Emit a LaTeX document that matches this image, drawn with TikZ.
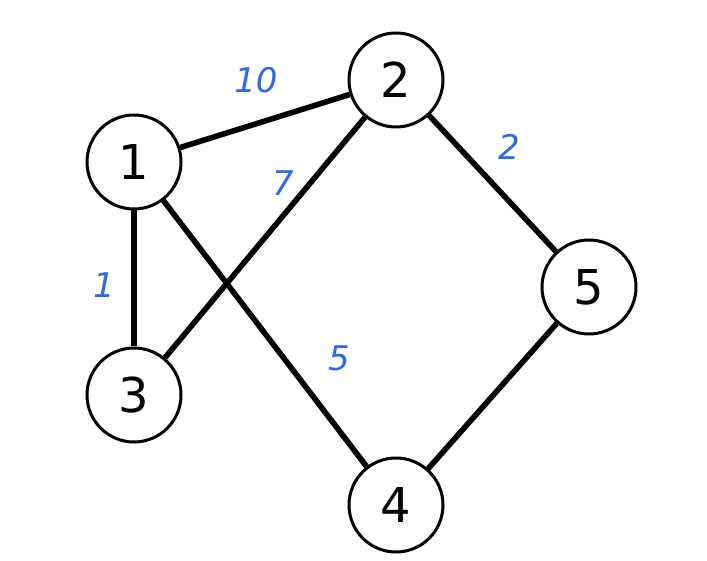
\documentclass[tikz,border=0pt]{standalone}
\usepackage{fontspec}
\setsansfont{DejaVu Sans}
\definecolor{lblue}{RGB}{45,105,235}
\begin{document}
\begin{tikzpicture}[x=1pt,y=-1pt,
  vert/.style={circle,draw,line width=3pt,minimum size=94pt,inner sep=0pt,fill=white,
    font=\fontsize{48}{48}\selectfont\sffamily},
  edge/.style={line width=5.6pt},
  wlab/.style={text=lblue,font=\fontsize{34}{34}\selectfont\sffamily\itshape}]
\useasboundingbox (0,0) rectangle (707,561);
\node[vert] (n1) at (134,162) {1};
\node[vert] (n2) at (396,80) {2};
\node[vert] (n3) at (134,395) {3};
\node[vert] (n4) at (396,505) {4};
\node[vert] (n5) at (589,287) {5};
\draw[edge] (n1) -- (n2);
\draw[edge] (n1) -- (n3);
\draw[edge] (n1) -- (n4);
\draw[edge] (n2) -- (n3);
\draw[edge] (n2) -- (n5);
\draw[edge] (n4) -- (n5);
\node[wlab] (w10) at (256,80) {10};
\node[wlab] (w7) at (283,183) {7};
\node[wlab] (w2) at (509,147) {2};
\node[wlab] (w1) at (104,285) {1};
\node[wlab] (w5) at (339,358) {5};
\end{tikzpicture}
\end{document}
